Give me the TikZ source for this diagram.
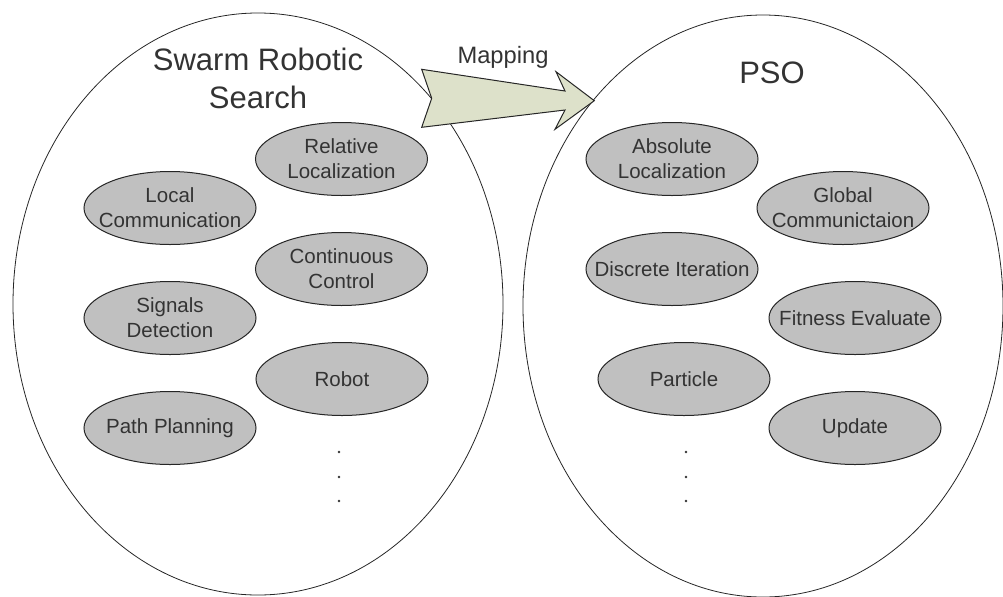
\documentclass[tikz,border=0pt]{standalone}
\usepackage{fontspec}
\setmainfont{Liberation Sans}
\usetikzlibrary{shapes}
\definecolor{txtgray}{RGB}{51,51,51}
\definecolor{nodegray}{RGB}{192,192,192}
\definecolor{arrowgreen}{RGB}{221,225,202}

\begin{document}
\begin{tikzpicture} [x=0.5pt, y=-0.5pt]
	
	
	\tikzstyle{bigset}=[ellipse, draw=black!85, line width=0.4pt, inner sep=0];
	\tikzstyle{item}=[ellipse, draw=black!85, fill=nodegray, line width=0.5pt, inner xsep=-10pt, inner ysep=0, minimum width=86pt, minimum height=36.5pt, align=center, text=txtgray, font=\fontsize{10.25}{12.5}\selectfont];
	\tikzstyle{title1}=[text=txtgray, align=center, inner sep=0, font=\fontsize{15.5}{19}\selectfont];
	\tikzstyle{title2}=[text=txtgray, inner sep=0, anchor=base, font=\fontsize{11.85}{14}\selectfont];
	\tikzstyle{bigarrow}=[draw=black!85, fill=arrowgreen, line width=0.5pt];
	
	\useasboundingbox (0,0) rectangle (1003,596);
	
	% the two sets
	\node [bigset, minimum width=245pt, minimum height=291pt](swarm) at (258,304){};
	\node [bigset, minimum width=240pt, minimum height=291pt](pso) at (763,306){};
	
	\node [title1](swarmtitle) at (258,78){Swarm Robotic\\Search};
	\node [title1, anchor=base](psotitle) at (772,83.3){PSO};
	
	% left set
	\node [item](relloc) at (341.5,159){Relative\\Localization};
	\node [item](localcom) at (170,208){Local\\Communication};
	\node [item](contctrl) at (341.5,269){Continuous\\Control};
	\node [item](signals) at (170,318){Signals\\Detection};
	\node [item](robot) at (342,379){Robot};
	\node [item](pathplan) at (170,428){Path Planning};
	\foreach \y in {452,477,501}
		\fill [txtgray] (339,\y) circle (1.3);
	
	% right set
	\node [item](absloc) at (672,159){Absolute\\Localization};
	\node [item](globalcom) at (843,208){Global\\Communictaion};
	\node [item](discrete) at (672,269){Discrete Iteration};
	\node [item](fitness) at (855,318){Fitness Evaluate};
	\node [item](particle) at (684,379){Particle};
	\node [item](update) at (855,428){Update};
	\foreach \y in {452,477,501}
		\fill [txtgray] (686,\y) circle (1.3);
	
	% mapping arrow
	\draw [bigarrow] (421.7,69.3) -- (565,91) -- (556,71.7) -- (594.3,100.7) -- (555,129.3) -- (565,110) -- (421.7,127.3) -- (431.7,98.3) -- cycle;
	\node [title2](maplabel) at (503,63.3){Mapping};
	
\end{tikzpicture}
\end{document}
